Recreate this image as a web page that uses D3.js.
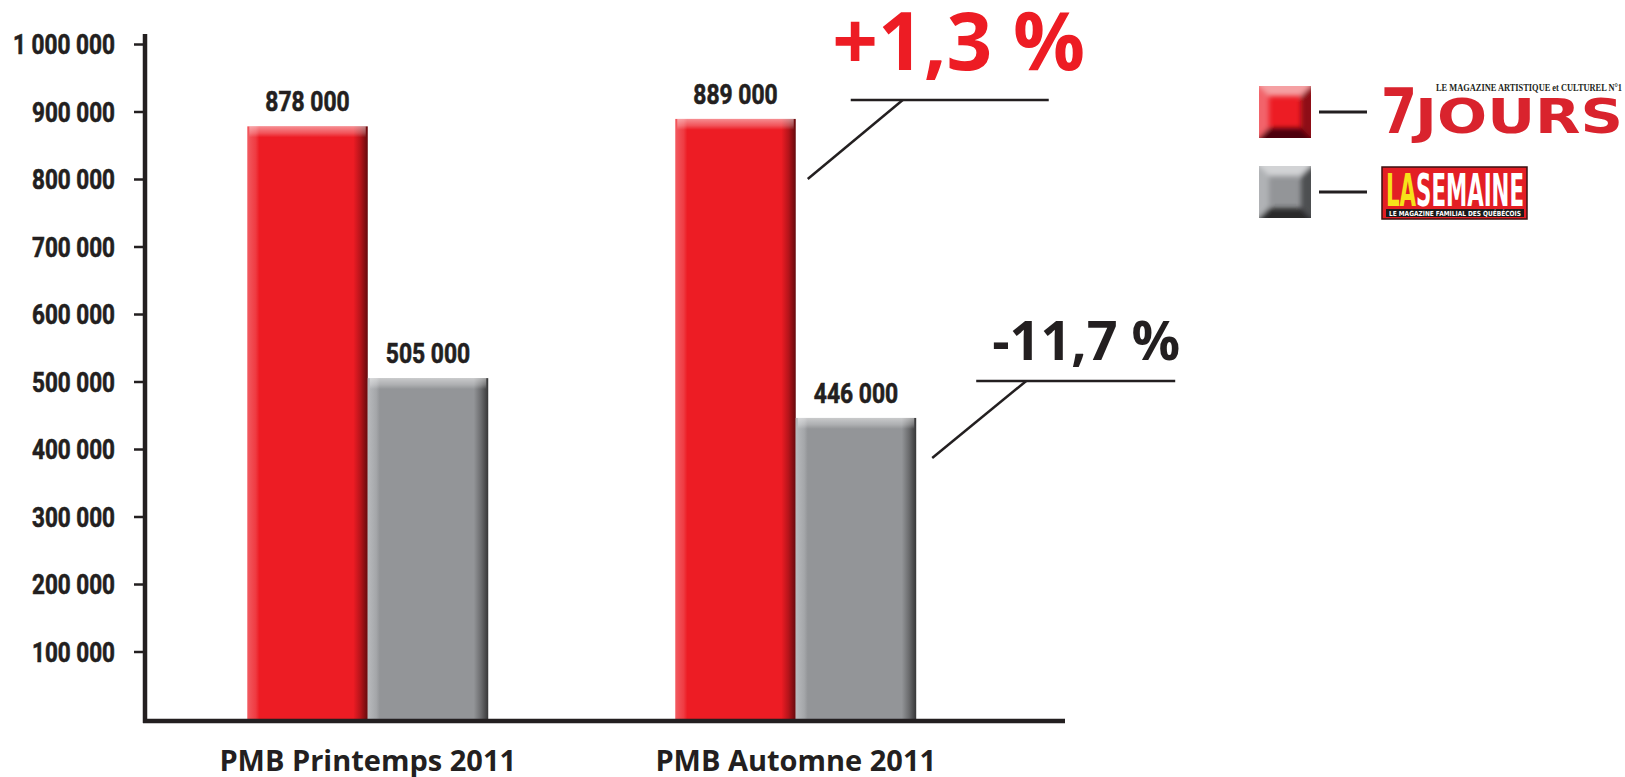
<!DOCTYPE html>
<html>
<head>
<meta charset="utf-8">
<script src="https://cdn.jsdelivr.net/npm/d3@7"></script>
<style>
  body { margin: 0; background: #fff; }
  .tick text { font-family: Roboto, "DejaVu Sans Condensed", sans-serif; font-weight: bold; font-size: 27px; fill: #231f20; stroke: #231f20; stroke-width: 0.6px; }
  .value-label { font-family: Roboto, "DejaVu Sans Condensed", sans-serif; font-weight: bold; font-size: 28px; fill: #231f20; stroke: #231f20; stroke-width: 0.6px; text-anchor: middle; }
  .cat-label { font-family: "Open Sans", sans-serif; font-weight: bold; font-size: 29px; fill: #231f20; text-anchor: middle; }
</style>
</head>
<body>
<div id="chartContainer"></div>
<script>
// Data
const categories = ["PMB Printemps 2011", "PMB Automne 2011"];
const series = ["7 Jours", "La Semaine"];
const values7Jours = [878000, 889000];
const valuesLaSemaine = [505000, 446000];
const yTicks = [100000, 200000, 300000, 400000, 500000, 600000, 700000, 800000, 900000, 1000000];

const W = 1625, H = 777;
const fr = d3.formatLocale({ decimal: ",", thousands: " ", grouping: [3], currency: ["", " $"] });
const fmt = fr.format(",d");
const pct = fr.format("+.1f");

// condensed look: squeeze digits to a fixed advance
const condensedLen = (str, d, s) => str.replace(/ /g, "").length * d + (str.split(" ").length - 1) * s;

const svg = d3.select("#chartContainer").append("svg")
    .attr("width", W).attr("height", H);

const defs = svg.append("defs");
function hGrad(id, stops) {
    const g = defs.append("linearGradient").attr("id", id).attr("x1", 0).attr("x2", 1).attr("y1", 0).attr("y2", 0);
    stops.forEach(s => g.append("stop").attr("offset", s[0]).attr("stop-color", s[1]));
}
hGrad("redBar", [["0%", "#f25a60"], ["7%", "#ef3b42"], ["10%", "#ed1c24"], ["88%", "#ed1c24"], ["94%", "#b5141a"], ["100%", "#650a0d"]]);
hGrad("grayBar", [["0%", "#b8babd"], ["7%", "#a5a7aa"], ["10%", "#939598"], ["88%", "#939598"], ["94%", "#6b6c6e"], ["100%", "#363637"]]);
const topG = defs.append("linearGradient").attr("id", "topShine").attr("x1", 0).attr("x2", 0).attr("y1", 0).attr("y2", 1);
topG.append("stop").attr("offset", "0%").attr("stop-color", "#fff").attr("stop-opacity", 0.5);
topG.append("stop").attr("offset", "60%").attr("stop-color", "#fff").attr("stop-opacity", 0.25);
topG.append("stop").attr("offset", "100%").attr("stop-color", "#fff").attr("stop-opacity", 0);
defs.append("filter").attr("id", "soft").append("feGaussianBlur").attr("stdDeviation", 2.5);
defs.append("clipPath").attr("id", "sq").append("rect").attr("width", 52).attr("height", 52);

// Scales
const y = d3.scaleLinear().domain([0, 1000000]).range([719, 44]);
const x0 = d3.scaleBand().domain(categories).range([145, 1018.5]).paddingInner(0.437).paddingOuter(0.239);
const x1 = d3.scaleBand().domain(series).range([0, x0.bandwidth()]);
const colors = { "7 Jours": "url(#redBar)", "La Semaine": "url(#grayBar)" };

const rows = categories.map((c, i) => ({
    cat: c,
    bars: [{ s: series[0], v: values7Jours[i] }, { s: series[1], v: valuesLaSemaine[i] }]
}));

// Bars
const groups = svg.selectAll(".grp").data(rows).enter().append("g")
    .attr("transform", d => `translate(${x0(d.cat)},0)`);

const bar = groups.selectAll(".bar").data(d => d.bars).enter().append("g");
bar.append("rect")
    .attr("x", d => x1(d.s)).attr("width", x1.bandwidth())
    .attr("y", d => y(d.v)).attr("height", d => y(0) - y(d.v))
    .attr("fill", d => colors[d.s]);
bar.append("rect")
    .attr("x", d => x1(d.s) + 2).attr("width", x1.bandwidth() - 4)
    .attr("y", d => y(d.v)).attr("height", 11)
    .attr("fill", "url(#topShine)");
bar.append("text").attr("class", "value-label")
    .attr("x", d => x1(d.s) + x1.bandwidth() / 2)
    .attr("y", d => y(d.v) - 15)
    .attr("textLength", d => condensedLen(fmt(d.v), 12.9, 7))
    .attr("lengthAdjust", "spacingAndGlyphs")
    .text(d => fmt(d.v));

// Y axis
const yAxis = svg.append("g").attr("transform", "translate(145,0)")
    .call(d3.axisLeft(y).tickValues(yTicks).tickSize(11).tickPadding(19).tickFormat(fmt));
yAxis.select(".domain").remove();
yAxis.selectAll(".tick line").attr("stroke", "#231f20").attr("stroke-width", 2.5);
yAxis.selectAll(".tick text").attr("dy", "0.36em")
    .attr("textLength", d => condensedLen(fmt(d), 12.8, 6.2))
    .attr("lengthAdjust", "spacingAndGlyphs");

svg.append("line").attr("x1", 145).attr("x2", 145).attr("y1", 34).attr("y2", 723)
    .attr("stroke", "#231f20").attr("stroke-width", 4.5);
svg.append("line").attr("x1", 143).attr("x2", 1065).attr("y1", 721).attr("y2", 721)
    .attr("stroke", "#231f20").attr("stroke-width", 4.5);

// Category labels
svg.selectAll(".cat-label").data(categories).enter().append("text")
    .attr("class", "cat-label")
    .attr("x", d => x0(d) + x0.bandwidth() / 2)
    .attr("y", 771)
    .text(d => d);

// Change annotations (second period vs first)
const notes = [
    { s: series[0], from: values7Jours[0], to: values7Jours[1], color: "#ed1c24", size: 80,
      start: [12, 60], elbow: [107, -19], line: [55, 253], text: [163, -49] },
    { s: series[1], from: valuesLaSemaine[0], to: valuesLaSemaine[1], color: "#231f20", size: 54,
      start: [16, 40], elbow: [110, -37], line: [60, 259], text: [170, -58] }
];
notes.forEach(n => {
    const bx = x0(categories[1]) + x1(n.s) + x1.bandwidth();
    const by = y(n.to);
    const g = svg.append("g").attr("transform", `translate(${bx},${by})`);
    g.append("line").attr("x1", n.start[0]).attr("y1", n.start[1]).attr("x2", n.elbow[0]).attr("y2", n.elbow[1])
        .attr("stroke", "#231f20").attr("stroke-width", 2.5);
    g.append("line").attr("x1", n.line[0]).attr("x2", n.line[1]).attr("y1", n.elbow[1]).attr("y2", n.elbow[1])
        .attr("stroke", "#231f20").attr("stroke-width", 2.5);
    g.append("text").attr("x", n.text[0]).attr("y", n.text[1])
        .attr("text-anchor", "middle")
        .style("font-family", "'Open Sans', sans-serif").style("font-weight", "bold")
        .style("font-size", n.size + "px").attr("fill", n.color)
        .text(pct((n.to - n.from) / n.from * 100).replace(/^−/, "-") + " %");
});

// Legend
const legendColors = [
    { main: "#ed1c24", light: "#f2646a", lighter: "#f5a0a3", dark: "#8e0f13", darker: "#4d0507" },
    { main: "#939598", light: "#b0b2b5", lighter: "#d2d3d5", dark: "#4e4f51", darker: "#2a2a2b" }
];
const legend = svg.selectAll(".legend").data(series).enter().append("g")
    .attr("transform", (d, i) => `translate(1259,${86 + i * 80})`);
const s = 52, b = 10;
const bevel = legend.append("g").attr("clip-path", "url(#sq)");
bevel.append("rect").attr("width", s).attr("height", s).attr("fill", (d, i) => legendColors[i].main);
const soft = bevel.append("g").attr("filter", "url(#soft)");
soft.append("polygon").attr("points", `-6,-6 ${s + 6},-6 ${s - b},${b} ${b},${b}`).attr("fill", (d, i) => legendColors[i].lighter);
soft.append("polygon").attr("points", `-6,-6 ${b},${b} ${b},${s - b} -6,${s + 6}`).attr("fill", (d, i) => legendColors[i].light);
soft.append("polygon").attr("points", `${s + 6},-6 ${s + 6},${s + 6} ${s - b},${s - b} ${s - b},${b}`).attr("fill", (d, i) => legendColors[i].dark);
soft.append("polygon").attr("points", `-6,${s + 6} ${s + 6},${s + 6} ${s - b},${s - b} ${b},${s - b}`).attr("fill", (d, i) => legendColors[i].darker);
legend.append("line").attr("x1", 60).attr("x2", 108).attr("y1", 26).attr("y2", 26)
    .attr("stroke", "#231f20").attr("stroke-width", 3);

// 7 Jours logo
const logo1 = svg.append("g").attr("transform", "translate(1381,0)");
logo1.append("text").attr("x", 0).attr("y", 133)
    .style("font-family", "'DejaVu Sans', Arial, sans-serif").style("font-weight", "bold")
    .style("font-size", "62px").attr("fill", "#d9232d")
    .attr("textLength", 36).attr("lengthAdjust", "spacingAndGlyphs").text("7");
logo1.append("text").attr("x", 34).attr("y", 133)
    .style("font-family", "'DejaVu Sans', Arial, sans-serif").style("font-weight", "bold")
    .style("font-size", "48px").attr("fill", "#d9232d")
    .attr("textLength", 208).attr("lengthAdjust", "spacingAndGlyphs").text("JOURS");
logo1.append("text").attr("x", 55).attr("y", 91)
    .style("font-family", "'Liberation Serif', serif").style("font-weight", "bold")
    .style("font-size", "10px").attr("fill", "#231f20")
    .attr("textLength", 186).attr("lengthAdjust", "spacingAndGlyphs").text("LE MAGAZINE ARTISTIQUE et CULTUREL N°1");

// La Semaine logo
const logo2 = svg.append("g").attr("transform", "translate(1382,167)");
logo2.append("rect").attr("width", 145).attr("height", 52).attr("fill", "#e31e24")
    .attr("stroke", "#3a1010").attr("stroke-width", 1.5);
logo2.append("text").attr("x", 4).attr("y", 39)
    .style("font-family", "'DejaVu Sans Condensed', sans-serif").style("font-weight", "bold")
    .style("font-size", "44px")
    .attr("textLength", 138).attr("lengthAdjust", "spacingAndGlyphs")
    .call(t => {
        t.append("tspan").attr("fill", "#f6e21a").text("LA");
        t.append("tspan").attr("fill", "#fff").text("SEMAINE");
    });
logo2.append("rect").attr("x", 4).attr("y", 42).attr("width", 138).attr("height", 8).attr("fill", "#1a1a1a");
logo2.append("text").attr("x", 7).attr("y", 49)
    .style("font-family", "'DejaVu Sans', sans-serif").style("font-weight", "bold")
    .style("font-size", "7px").attr("fill", "#fff")
    .attr("textLength", 132).attr("lengthAdjust", "spacingAndGlyphs").text("LE MAGAZINE FAMILIAL DES QUÉBÉCOIS");
</script>
</body>
</html>
